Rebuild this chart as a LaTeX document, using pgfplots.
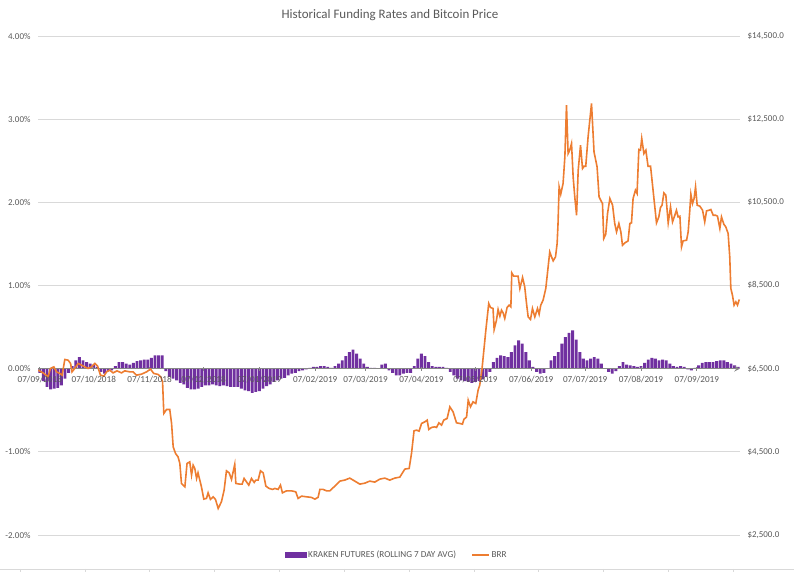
\documentclass[border=0pt]{standalone}
\usepackage{pgfplots}
\usepackage{pgfplotstable}
\pgfplotsset{compat=1.18}
\usepackage{fontspec}
\setmainfont{Carlito}
\definecolor{kpurple}{RGB}{112,48,160}
\definecolor{korange}{RGB}{237,125,49}
\definecolor{tickgray}{RGB}{89,89,89}
\definecolor{gridgray}{RGB}{217,217,217}
\definecolor{axisgray}{RGB}{134,134,134}

% day 0 = 07/09/2018; funding rate in percent
\pgfplotstableread{
day rate
0 -0.05
2 -0.15
4 -0.22
6 -0.25
8 -0.24
10 -0.23
12 -0.20
14 -0.12
16 -0.05
18 0.03
20 0.10
22 0.14
24 0.10
26 0.08
28 0.06
30 0.05
32 0.02
34 -0.04
36 -0.06
38 -0.03
40 -0.02
42 0.03
44 0.08
46 0.08
48 0.06
50 0.05
52 0.07
54 0.09
56 0.10
58 0.11
60 0.11
62 0.13
64 0.16
66 0.16
68 0.16
70 -0.03
72 -0.10
74 -0.12
76 -0.14
78 -0.17
80 -0.19
82 -0.23
84 -0.25
86 -0.25
88 -0.24
90 -0.22
92 -0.20
94 -0.20
96 -0.19
98 -0.20
100 -0.21
102 -0.20
104 -0.21
106 -0.22
108 -0.22
110 -0.22
112 -0.24
114 -0.26
116 -0.27
118 -0.29
120 -0.28
122 -0.27
124 -0.24
126 -0.21
128 -0.19
130 -0.16
132 -0.14
134 -0.12
136 -0.11
138 -0.08
140 -0.06
142 -0.05
144 -0.03
146 -0.02
148 -0.01
150 0.01
152 0.02
154 0.02
156 0.03
158 0.03
160 0.02
162 0.01
164 0.03
166 0.06
168 0.10
170 0.15
172 0.20
174 0.23
176 0.18
178 0.12
180 0.06
182 0.02
184 0.01
186 0.01
188 0.00
190 0.05
192 0.06
194 -0.02
196 -0.05
198 -0.08
200 -0.08
202 -0.06
204 -0.05
206 -0.05
208 0.03
210 0.12
212 0.18
214 0.15
216 0.08
218 0.03
220 0.02
222 0.02
224 0.02
226 0.01
228 -0.04
230 -0.08
232 -0.12
234 -0.14
236 -0.15
238 -0.16
240 -0.17
242 -0.16
244 -0.15
246 -0.13
248 -0.10
250 -0.04
252 0.08
254 0.13
256 0.16
258 0.15
260 0.14
262 0.20
264 0.28
266 0.34
268 0.30
270 0.20
272 0.10
274 0.02
276 -0.04
278 -0.06
280 -0.05
282 0.00
284 0.10
286 0.15
288 0.20
290 0.30
292 0.38
294 0.43
296 0.46
298 0.35
300 0.20
302 0.12
304 0.10
306 0.12
308 0.14
310 0.12
312 0.06
314 0.00
316 -0.04
318 -0.06
320 -0.03
322 0.03
324 0.08
326 0.05
328 0.04
330 0.03
332 0.02
334 0.03
336 0.07
338 0.11
340 0.13
342 0.12
344 0.10
346 0.11
348 0.10
350 0.06
352 0.03
354 0.02
356 0.03
358 0.02
360 -0.01
362 -0.02
364 0.01
366 0.04
368 0.07
370 0.08
372 0.08
374 0.08
376 0.09
378 0.10
380 0.10
382 0.08
384 0.06
386 0.04
388 0.02
}\ratetable

% BRR price in USD
\pgfplotstableread{
day price
-0.9 6464
1.8 6399
4.6 6303
5.9 6505
7.8 6543
9.3 6423
11.1 6385
12.4 6344
13.9 6721
15.7 6704
17.1 6625
17.9 6423
19.4 6505
21.3 6625
23.2 6584
25.0 6543
26.8 6505
28.7 6543
30.6 6625
32.1 6560
33.7 6344
35.6 6320
37.1 6423
38.9 6464
40.7 6399
42.9 6447
45.4 6399
47.2 6447
50.0 6423
51.8 6423
53.7 6344
56.5 6368
59.3 6423
61.5 6488
63.3 6385
65.7 6361
67.2 6303
68.2 6183
68.9 5423
70.4 5519
72.2 5519
73.2 5183
74.1 4620
75.4 4461
76.8 4380
77.8 4221
78.7 3740
80.6 3660
81.8 4221
83.3 4259
84.3 3940
85.2 4180
86.1 4101
87.1 3860
87.9 3995
89.8 3658
91.1 3363
92.6 3380
93.5 3514
94.8 3356
96.3 3418
97.6 3356
99.1 3139
100.9 3298
102.4 3579
103.7 4043
105.2 3995
106.5 3836
108.3 4197
108.9 3740
111.1 3723
112.4 3723
113.5 3860
114.8 3779
116.1 3699
117.6 3860
119.1 3764
120.0 3820
121.3 3820
122.6 4043
124.1 3995
125.6 3675
127.4 3620
129.3 3596
130.6 3620
132.4 3596
133.7 3699
134.8 3514
137.1 3562
139.8 3562
142.2 3538
143.5 3380
145.4 3435
148.2 3418
150.9 3404
152.8 3363
154.6 3404
155.6 3596
157.4 3596
159.3 3562
161.1 3562
163.9 3675
166.7 3796
169.4 3820
172.2 3868
175.0 3796
177.8 3723
180.6 3747
183.3 3796
186.1 3772
188.9 3844
191.7 3868
194.4 3820
197.2 3868
200.0 3892
202.8 4085
205.2 4101
206.5 4461
207.9 5005
209.3 5022
210.7 4998
212.1 5183
213.9 5221
215.2 5262
216.1 5038
217.6 5086
219.4 5101
220.4 5086
221.7 5197
223.2 5142
224.4 5262
226.3 5303
227.8 5582
229.6 5461
231.5 5197
233.3 5183
234.8 5166
235.6 5279
237.1 5341
238.0 5743
239.3 5582
240.7 5702
242.2 5663
243.5 5983
244.4 6103
245.6 6464
246.7 6945
247.8 7426
249.4 8067
250.4 7971
251.8 7947
252.4 7442
253.7 7666
254.6 7923
255.6 7762
256.5 7906
257.4 7841
258.3 7707
259.6 7971
260.7 8027
261.7 7986
262.2 8803
263.3 8724
264.8 8724
265.7 8724
266.7 8428
268.2 8692
269.4 8467
270.4 8067
271.3 7745
272.6 7683
273.7 7947
275.0 7745
276.5 7947
277.4 7810
278.3 8027
279.6 8147
281.1 8428
282.1 8827
283.3 9308
284.3 9188
285.2 9092
286.5 9188
287.4 9510
287.9 9991
288.5 10871
289.4 10695
290.7 10952
291.7 11592
292.6 12835
293.5 11673
294.4 11753
295.4 11914
296.3 11111
297.2 10630
298.2 10190
299.1 11272
300.4 11873
301.5 11313
302.4 11368
303.3 11368
304.6 12073
306.5 12876
307.9 11712
309.6 11351
310.7 10630
312.1 10510
312.6 10471
313.3 9630
314.4 9733
315.4 10231
316.7 10592
318.2 10431
319.4 9991
320.4 9789
321.7 9991
322.8 9789
323.7 9469
325.0 9524
326.8 9572
327.8 9991
328.7 10005
329.6 10592
330.9 10791
331.8 10712
332.8 11770
333.7 11753
334.4 12034
335.6 11673
336.7 11753
337.9 11368
339.3 11368
340.7 10791
342.6 10005
343.9 10149
344.8 10375
345.7 10431
346.7 10726
347.8 10671
349.1 10005
350.4 10390
351.5 10029
352.8 10190
353.7 10310
354.6 10149
355.6 10166
356.5 9428
357.4 9572
359.3 9589
360.2 9789
361.1 10310
361.7 10695
362.6 10471
363.5 10592
364.3 10871
365.2 10431
366.7 10407
368.2 10310
369.4 10029
370.4 10294
371.8 10310
372.8 10327
374.1 10190
375.4 10190
376.5 10166
377.8 9870
378.7 10149
380.0 9974
381.1 9909
382.4 9750
383.3 9188
383.9 8428
384.8 8267
385.7 8027
386.7 8106
387.6 8027
388.6 8164
}\pricetable

\pgfplotsset{
  commonframe/.style={
    at={(38bp,37bp)}, anchor=south west,
    scale only axis, width=702bp, height=499bp,
    xmin=-1, xmax=389,
    axis line style={-},
    tick align=outside, major tick length=4bp,
    scaled ticks=false,
  },
  monthticks/.style={
    xtick={0,30,61,91,122,153,181,212,242,273,303,334,365},
  },
}

\begin{document}
\begin{tikzpicture}[x=1bp,y=1bp]
\path[use as bounding box] (0,0) rectangle (794,572);
\node[font=\fontsize{13}{15}\selectfont, text=tickgray] at (390,557) {Historical Funding Rates and Bitcoin Price};
% outer horizontal axis line at the bottom edge
\draw[gridgray, line width=0.75bp] (0,3) -- (794,3);
\foreach \k in {0,...,11} \draw[gridgray, line width=0.75bp] (20.2+64.83*\k,3) -- (20.2+64.83*\k,0);

% primary axis: funding rate bars
\begin{axis}[
  commonframe, monthticks,
  ymin=-2, ymax=4,
  axis x line=middle, axis y line*=left,
  x axis line style={axisgray, line width=1.5bp},
  y axis line style={draw=none},
  ytick style={draw=none},
  xtick style={axisgray, line width=0.75bp},
  hide obscured x ticks=false,
  xticklabels={},
  ytick={-2,-1,0,1,2,3,4},
  yticklabels={-2.00\%,-1.00\%,0.00\%,1.00\%,2.00\%,3.00\%,4.00\%},
  ymajorgrids, grid style={gridgray, line width=0.75bp},
  yticklabel style={font=\fontsize{9}{10}\selectfont, text=tickgray},
  axis on top,
]
\addplot[ybar, bar width=1.6, fill=kpurple, draw=none] table[x=day, y=rate] {\ratetable};
\end{axis}

% secondary axis: BRR price
\begin{axis}[
  commonframe,
  ymin=2500, ymax=14500,
  axis x line=none, axis y line*=right,
  y axis line style={draw=none},
  ytick style={draw=none},
  ytick={2500,4500,6500,8500,10500,12500,14500},
  yticklabels={{\$2,500.0},{\$4,500.0},{\$6,500.0},{\$8,500.0},{\$10,500.0},{\$12,500.0},{\$14,500.0}},
  yticklabel style={font=\fontsize{9}{10}\selectfont, text=tickgray},
  legend columns=2,
  legend style={at={(0.511,-0.04)}, anchor=center, draw=none, fill=none,
    font=\fontsize{9.2}{10}\selectfont, text=tickgray,
    /tikz/every even column/.append style={column sep=14bp},
    nodes={inner sep=1.5bp}},
]
\addlegendimage{legend image code/.code={\fill[kpurple] (0bp,-2.5bp) rectangle (21bp,2.5bp);}}
\addlegendentry{KRAKEN FUTURES (ROLLING 7 DAY AVG)}
\addplot[korange, line width=1.6bp] table[x=day, y=price] {\pricetable};
\addlegendentry{BRR}
\end{axis}

% date labels along the zero line, set above the bars
\begin{axis}[
  commonframe, monthticks,
  ymin=-2, ymax=4,
  axis x line=middle, axis y line=none,
  x axis line style={draw=none},
  xtick style={draw=none},
  ytick=\empty,
  hide obscured x ticks=false,
  xticklabels={07/09/2018,07/10/2018,07/11/2018,07/12/2018,07/01/2019,07/02/2019,07/03/2019,07/04/2019,07/05/2019,07/06/2019,07/07/2019,07/08/2019,07/09/2019},
  xticklabel style={font=\fontsize{9.2}{10}\selectfont, text=tickgray, yshift=-2bp},
]
\end{axis}
\end{tikzpicture}
\end{document}
